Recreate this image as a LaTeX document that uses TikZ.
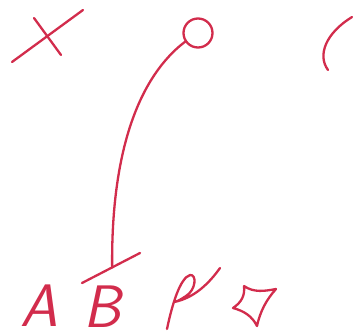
\documentclass[tikz,border=0pt]{standalone}
\usetikzlibrary{calc}
\definecolor{sketchRed}{HTML}{D22C4C}
\definecolor{sketchPaper}{HTML}{FFFFFF}

\begin{document}
\begin{tikzpicture}[x=1pt,y=-1pt,line cap=round,line join=round]
\path[fill=sketchPaper,use as bounding box] (0,0) rectangle (355,335);
\tikzset{ink/.style={draw=sketchRed,line width=2.3pt},letter/.style={text=sketchRed,font=\fontsize{60}{60}\selectfont\sffamily\slshape,inner sep=1pt}}
% cross mark, top left
\draw[ink] (12,62) -- (83,10); \draw[ink] (34,18) -- (61,55);
% ring with stem and foot bar
\node[ink,circle,minimum size=29pt,inner sep=0pt] (ring) at (198,33) {};
\coordinate (barL) at (82,283); \coordinate (barR) at (140,253);
\coordinate (foot) at ($(barL)!0.52!(barR)$);
\draw[ink] (barL) -- (barR);
\draw[ink] (ring.214) .. controls (135,80) and (111,160) .. (foot);
% open arc, top right
\draw[ink] (352,17) .. controls (326,33) and (317,55) .. (328,70);
% bottom row of symbols
\node[letter] (lA) at (39,306) {A\/};
\node[letter] (lB) at (104,307) {B\/};
\draw[ink] (167,329) .. controls (172,305) and (180,278) .. (190,275) .. controls (197,274) and (196,290) .. (186,296) .. controls (180,300) and (176,302) .. (174,302) .. controls (195,298) and (210,282) .. (220,268);
\draw[ink] (244,286) .. controls (254,293) and (265,291) .. (276,289) .. controls (266,300) and (260,312) .. (257,326) .. controls (252,316) and (244,311) .. (233,308) .. controls (242,302) and (245,295) .. (244,286);
\end{tikzpicture}
\end{document}
